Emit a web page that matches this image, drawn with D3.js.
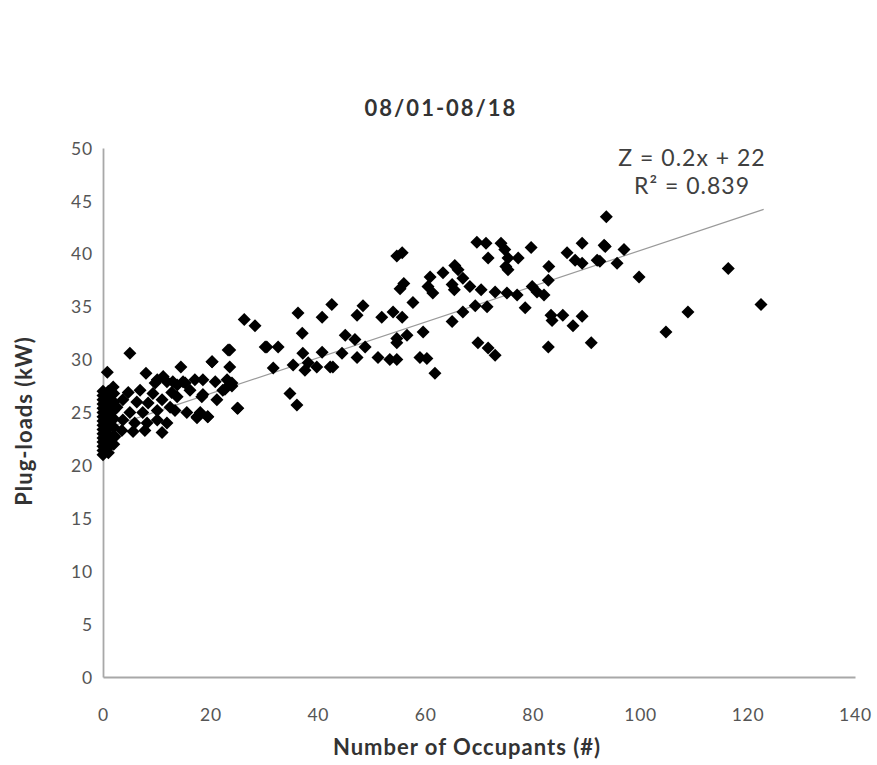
<!DOCTYPE html>
<html>
<head>
<meta charset="utf-8">
<script src="https://cdn.jsdelivr.net/npm/d3@7"></script>
<style>
html,body{margin:0;padding:0;background:#fff;}
svg{display:block;}
</style>
</head>
<body>
<svg id="chart" width="877" height="765"></svg>
<script>
const title = "08/01-08/18";
const xLabel = "Number of Occupants (#)";
const yLabel = "Plug-loads (kW)";
const xTicks = [0, 20, 40, 60, 80, 100, 120, 140];
const yTicks = [0, 5, 10, 15, 20, 25, 30, 35, 40, 45, 50];
const equationLines = ["Z = 0.2x + 22", "R\u00B2 = 0.839"];
const trendX = [0, 123];
const trendY = [23.4, 44.2];

// occupants (x)
const occupants = [
  // dense strip near zero
  0,0,0,0,0,0,0,0,0,0,0,0,0,0,0,0,
  1,1,1,1,1,1,1,1,1,1,1,
  2,2,2,2,2,2,2,
  0.5,0.5,0.5,0.5,0.5,0.5,
  // low range
  5.0,0.8,8.0,14.5,20.3,23.6,30.2,25.0,19.5,17.5,11.0,11.9,13.4,15.6,
  10.1,11.9,13.8,14.9,16.2,12.8,9.3,6.9,4.7,3.7,6.3,8.4,11.0,13.8,12.5,10.1,7.4,5.0,
  3.7,5.9,8.2,10.1,3.5,5.6,7.8,18.6,18.1,21.2,22.3,24.0,2.6,2.2,1.9,11.2,9.7,13.0,15.3,17.1,
  // mid range
  26.3,28.3,36.3,40.8,42.6,37.1,23.3,30.5,32.6,20.3,23.6,31.7,35.4,37.2,40.8,38.2,39.8,37.6,42.3,
  18.6,20.9,23.1,24.0,22.7,18.4,34.8,36.1,25.1,17.5,19.5,
  54.7,55.7,56.0,55.3,60.9,60.5,61.4,63.3,65.5,66.1,65.0,65.4,67.0,57.7,48.4,47.3,51.9,54.0,55.7,
  65.0,67.0,45.1,46.9,48.8,54.7,56.6,59.6,54.7,44.5,42.8,47.3,51.2,53.4,54.7,59.0,60.3,61.8,
  // upper range
  69.6,71.3,74.1,74.8,71.7,75.4,77.3,75.0,75.4,79.7,89.2,93.3,86.4,87.9,89.2,92.0,83.0,82.9,
  68.3,70.4,73.0,75.2,77.1,79.9,80.8,82.1,69.3,71.5,78.6,83.4,85.6,89.2,87.5,83.6,
  69.8,71.7,73.0,82.9,90.9,
  93.7,93.5,97.0,92.5,95.7,99.8,116.4,122.5,108.9,104.8
];
// plug loads (y)
const plugLoads = [
  21.0,21.4,21.8,22.2,22.6,23.0,23.4,23.8,24.2,24.6,25.0,25.4,25.8,26.2,26.6,27.0,
  21.2,21.7,22.3,22.9,23.5,24.1,24.7,25.3,25.9,26.5,27.0,
  22.0,22.8,23.6,24.4,25.2,26.0,26.8,
  21.5,22.5,23.5,24.5,25.5,26.5,
  30.6,28.8,28.7,29.3,29.8,30.9,31.2,25.4,24.6,24.5,23.1,24.0,25.2,25.0,
  28.1,27.9,27.6,27.9,27.1,26.9,26.8,27.1,26.9,26.2,26.0,25.9,26.2,26.5,25.5,25.2,25.0,25.0,
  24.3,24.0,24.0,24.3,23.3,23.2,23.3,26.7,25.0,26.2,27.1,27.8,25.5,22.7,27.4,28.4,27.8,27.9,27.8,28.1,
  33.8,33.2,34.4,34.0,35.2,32.5,30.9,31.2,31.2,29.8,29.3,29.2,29.5,30.6,30.7,29.7,29.3,29.0,29.3,
  28.1,27.9,28.1,27.5,27.2,26.5,26.8,25.7,25.4,24.6,24.6,
  39.8,40.1,37.2,36.7,37.8,36.9,36.3,38.2,38.9,38.5,37.1,36.6,37.7,35.4,35.1,34.2,34.0,34.5,34.0,
  33.6,34.5,32.3,31.9,31.2,32.0,32.3,32.6,31.6,30.6,29.3,30.2,30.2,30.0,30.0,30.2,30.1,28.7,
  41.1,41.0,41.0,40.4,39.6,39.6,39.6,38.8,38.5,40.6,41.0,40.8,40.1,39.4,39.1,39.4,38.8,37.5,
  36.9,36.6,36.4,36.3,36.1,36.9,36.4,36.1,35.1,35.0,34.9,34.2,34.2,34.1,33.2,33.7,
  31.6,31.1,30.4,31.2,31.6,
  43.5,40.7,40.4,39.3,39.1,37.8,38.6,35.2,34.5,32.6
];

const svg = d3.select("#chart");
const margin = {left: 103, right: 22, top: 148, bottom: 88};
const W = 877, H = 765;
const x = d3.scaleLinear().domain([0, 140]).range([margin.left, W - margin.right]);
const y = d3.scaleLinear().domain([0, 50]).range([H - margin.bottom, margin.top]);

const font = "Lato, 'Open Sans', 'DejaVu Sans', sans-serif";

const xAxis = d3.axisBottom(x).tickValues(xTicks).tickSize(0).tickPadding(32);
const yAxis = d3.axisLeft(y).tickValues(yTicks).tickSize(0).tickPadding(10);

const gx = svg.append("g").attr("transform", `translate(0,${y(0)})`).call(xAxis);
const gy = svg.append("g").attr("transform", `translate(${x(0)},0)`).call(yAxis);
[gx, gy].forEach(g => {
  g.select(".domain").attr("stroke", "#a8a8a8").attr("stroke-width", 1.8);
  g.selectAll("text").attr("fill", "#555").style("font-family", font)
    .style("font-size", "17.5px").style("letter-spacing", "0.8px");
});
gy.selectAll("text").attr("dy", "0.35em");

// trend line
svg.append("line")
  .attr("x1", x(trendX[0])).attr("y1", y(trendY[0]))
  .attr("x2", x(trendX[1])).attr("y2", y(trendY[1]))
  .attr("stroke", "#9a9a9a").attr("stroke-width", 1.2);

// points
const pts = occupants.map((v, i) => ({x: v, y: plugLoads[i]}));
const r = 6.5;
svg.append("g").selectAll("path").data(pts).enter().append("path")
  .attr("d", d => `M${x(d.x)},${y(d.y) - r}L${x(d.x) + r},${y(d.y)}L${x(d.x)},${y(d.y) + r}L${x(d.x) - r},${y(d.y)}Z`)
  .attr("fill", "#000");

// title
svg.append("text").attr("x", 441).attr("y", 116).attr("text-anchor", "middle")
  .style("font-family", font).style("font-size", "22px").style("font-weight", "bold")
  .style("letter-spacing", "2px")
  .attr("fill", "#333").text(title);

// axis labels
svg.append("text").attr("x", 467).attr("y", 755).attr("text-anchor", "middle")
  .style("font-family", font).style("font-size", "22px").style("font-weight", "bold")
  .style("letter-spacing", "1px")
  .attr("fill", "#333").text(xLabel);
svg.append("text").attr("transform", "translate(32,421) rotate(-90)").attr("text-anchor", "middle")
  .style("font-family", font).style("font-size", "22px").style("font-weight", "bold")
  .style("letter-spacing", "1px")
  .attr("fill", "#333").text(yLabel);

// equation
equationLines.forEach((t, i) => {
  svg.append("text").attr("x", 692).attr("y", 166 + i * 28).attr("text-anchor", "middle")
    .style("font-family", font).style("font-size", "23px").style("letter-spacing", "1px")
    .attr("fill", "#404040").text(t);
});
</script>
</body>
</html>
